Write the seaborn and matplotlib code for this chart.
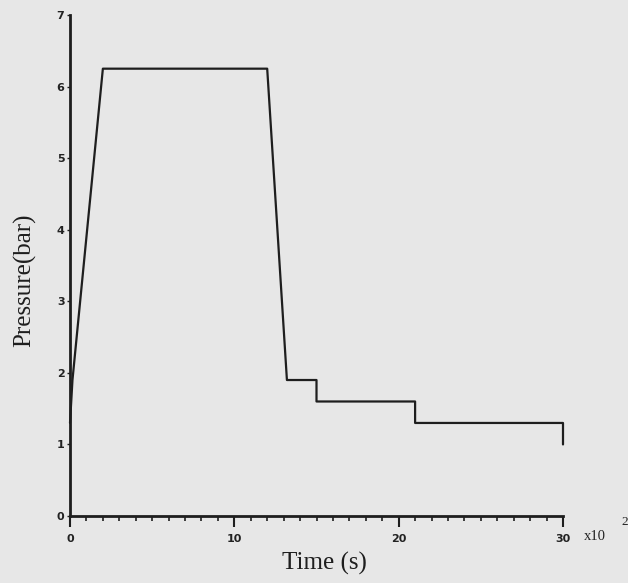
import matplotlib
matplotlib.use("Agg")
import matplotlib.pyplot as plt
from matplotlib.ticker import MultipleLocator
import seaborn as sns
import pandas as pd

# Pressure history of the test cycle (time in units of 10^2 s)
time_hs = [0.0, 0.15, 2.0, 12.0, 13.2, 15.0, 15.0, 21.0, 21.0, 30.0, 30.0]
pressure_bar = [1.3, 1.9, 6.25, 6.25, 1.9, 1.9, 1.6, 1.6, 1.3, 1.3, 1.0]

x_ticks = [0, 10, 20, 30]
y_ticks = [0, 1, 2, 3, 4, 5, 6, 7]

df = pd.DataFrame({"time": time_hs, "pressure": pressure_bar})

sns.set_style("white")
bg = "#e7e7e7"
ink = "#1e1e1e"
fig = plt.figure(figsize=(6.28, 5.83), dpi=100, facecolor=bg)
ax = fig.add_axes([70 / 628, (583 - 516) / 583, (563 - 70) / 628, (516 - 15) / 583])
ax.set_facecolor(bg)

sns.lineplot(data=df, x="time", y="pressure", sort=False, estimator=None,
             color=ink, linewidth=1.6, ax=ax)
for line in ax.lines:
    line.set_clip_on(False)

ax.set_xlim(0, 30)
ax.set_ylim(0, 7)
ax.set_xticks(x_ticks)
ax.set_yticks(y_ticks)
ax.xaxis.set_minor_locator(MultipleLocator(1))

for side in ("top", "right"):
    ax.spines[side].set_visible(False)
for side in ("left", "bottom"):
    ax.spines[side].set_color(ink)
    ax.spines[side].set_linewidth(2.0)

ax.tick_params(axis="x", which="both", bottom=True, top=False)
ax.tick_params(axis="y", which="both", left=True, right=False)
ax.tick_params(axis="x", which="major", direction="out", length=8, width=1.5,
               color=ink, labelsize=8, pad=5)
ax.tick_params(axis="x", which="minor", direction="out", length=3.5, width=1.2,
               color=ink)
ax.tick_params(axis="y", which="major", direction="out", length=2, width=1.0,
               color=ink, labelsize=8, pad=2)
for lab in ax.get_xticklabels() + ax.get_yticklabels():
    lab.set_fontweight("bold")
    lab.set_color("#222222")

ax.set_xlabel("Time (s)", family="Liberation Serif", fontsize=18, color=ink)
ax.set_ylabel("Pressure(bar)", family="Liberation Serif", fontsize=18, color=ink)
ax.xaxis.set_label_coords(0.517, -0.094)
ax.yaxis.set_label_coords(-0.091, 0.47)
ax.xaxis.label.set_va("center")
ax.yaxis.label.set_va("center")

# axis multiplier at the right end of the time axis
fig.text(584 / 628, 1 - 536 / 583, "x10", family="Liberation Serif", fontsize=10.5,
         color="#222222", ha="left", va="center")
fig.text(621 / 628, 1 - 522 / 583, "2", family="Liberation Serif", fontsize=9.5,
         color="#222222", ha="left", va="center")

fig.savefig("out.png", dpi=100, facecolor=bg)
